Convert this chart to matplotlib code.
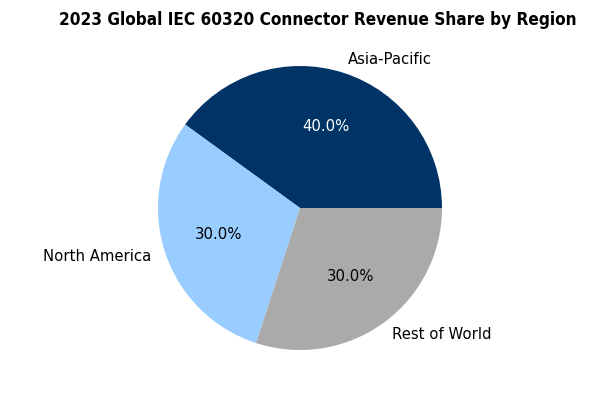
import matplotlib
matplotlib.use("Agg")
import matplotlib.pyplot as plt

regions = ['Asia-Pacific', 'North America', 'Rest of World']
shares = [40, 30, 30]
colors = ['#003366', '#99ccff', '#aaaaaa']

fig = plt.figure(figsize=(6, 3.95), dpi=100)
ax = fig.add_axes([158/600, 1 - 350/395, 284/600, 284/395])

wedges, texts, autotexts = ax.pie(shares, labels=regions, colors=colors,
                                  autopct='%1.1f%%', startangle=0,
                                  textprops={'fontsize': 10.7})
autotexts[0].set_color('white')
ax.set_xlim(-1, 1)
ax.set_ylim(-1, 1)
ax.set_aspect('equal')

fig.text(318/600, 1 - 20/395, '2023 Global IEC 60320 Connector Revenue Share by Region',
         ha='center', va='center', fontsize=12.3, fontweight='bold',
         family=['DejaVu Sans Condensed', 'DejaVu Sans'], fontstretch='condensed')

fig.savefig('out.png', dpi=100)
